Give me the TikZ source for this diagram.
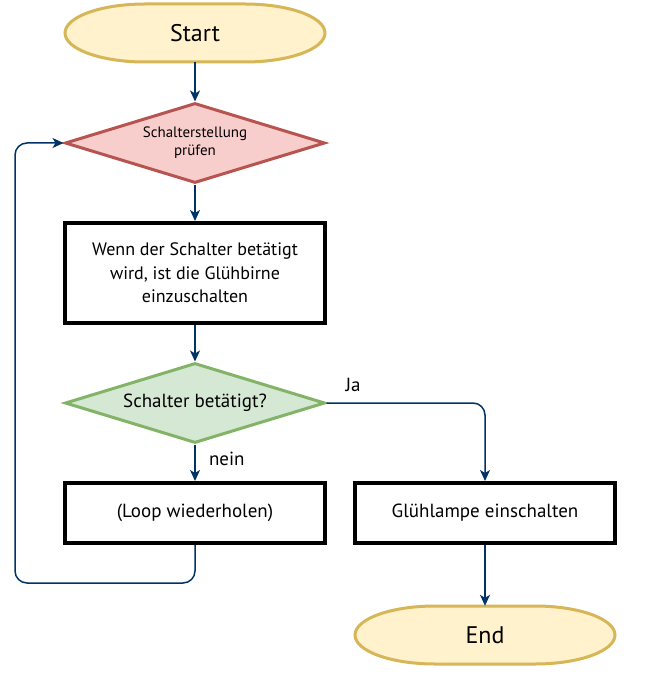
\documentclass[tikz,border=0pt]{standalone}
\usepackage{fontspec}
\setmainfont{PT Sans}
\usetikzlibrary{shapes.geometric,arrows.meta}
\definecolor{termfill}{HTML}{FFF2CC}
\definecolor{termline}{HTML}{D6B656}
\definecolor{checkfill}{HTML}{F8CECC}
\definecolor{checkline}{HTML}{B85450}
\definecolor{askfill}{HTML}{D5E8D4}
\definecolor{askline}{HTML}{82B366}
\definecolor{flowline}{HTML}{003366}
\begin{document}
\begin{tikzpicture}[x=1pt,y=-1pt,
    termshape/.style={draw=termline,fill=termfill,line width=3pt},
    term/.style={minimum width=260pt,minimum height=58pt,font=\fontsize{24}{28}\selectfont},
    check/.style={diamond,aspect=3.25,draw=checkline,fill=checkfill,line width=3pt,
      minimum width=260pt,minimum height=80pt,inner sep=0pt,align=center,
      font=\fontsize{15}{18}\selectfont},
    ask/.style={diamond,aspect=3.25,draw=askline,fill=askfill,line width=3pt,
      minimum width=260pt,minimum height=80pt,inner sep=0pt,
      font=\fontsize{19}{22}\selectfont},
    job/.style={draw,line width=4pt,minimum width=260pt,align=center,
      font=\fontsize{19}{23.5}\selectfont},
    lbl/.style={font=\fontsize{19}{22}\selectfont}]
  \useasboundingbox (0,0) rectangle (650,700);
  % terminator outlines
  \foreach \cx/\cy in {195/33,485/635}
    \filldraw[termshape] (\cx-50,\cy-29) -- (\cx+50,\cy-29)
      arc[start angle=90,end angle=-90,x radius=80pt,y radius=29pt]
      -- (\cx-50,\cy+29)
      arc[start angle=270,end angle=90,x radius=80pt,y radius=29pt] -- cycle;
  \draw
    (195,33) node[term] (start){Start}
    (195,143) node[check] (check){Schalterstellung\\prüfen}
    (195,273) node[job,minimum height=100pt,font=\fontsize{18}{23.5}\selectfont] (rule){Wenn der Schalter betätigt\\wird, ist die Glühbirne\\einzuschalten}
    (195,403) node[ask] (ask){Schalter betätigt?}
    (195,513) node[job,minimum height=60pt] (loop){(Loop wiederholen)}
    (485,513) node[job,minimum height=60pt] (lamp){Glühlampe einschalten}
    (485,635) node[term] (end){End};
  \coordinate (back) at (15,583);
  \coordinate (turn) at (485,403);
  \begin{scope}[-{Stealth[length=11pt,width=10pt,inset=3pt]},draw=flowline,line width=1.5pt,rounded corners=12pt]
    \draw (start) to (check);
    \draw (check) to (rule);
    \draw (rule) to (ask);
    \draw (ask) to node[lbl,right,pos=0.4,xshift=10pt] {nein} (loop);
    \draw (ask.east) -- (turn) -- (lamp);
    \draw (lamp) to (end);
    \draw (loop.south) |- (back) |- (check.west);
  \end{scope}
  \node[lbl] (ja) at (353,385) {Ja};
\end{tikzpicture}
\end{document}
